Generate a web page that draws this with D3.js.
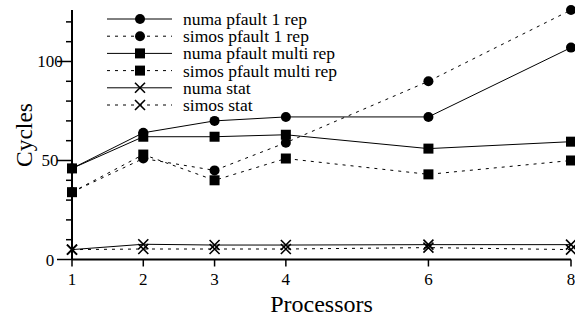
<!DOCTYPE html>
<html>
<head>
<meta charset="utf-8">
<script src="https://cdn.jsdelivr.net/npm/d3@7"></script>
</head>
<body style="margin:0">
<svg id="fig" width="575" height="317"></svg>
<script>
// processors on the x axis
const processors = [1, 2, 3, 4, 6, 8];

// series values (cycles)
const numaPfault1 = [46, 64, 70, 72, 72, 107];
const simosPfault1 = [34, 51, 45, 59, 90, 126];
const numaPfaultMulti = [46, 62, 62, 63, 56, 59.5];
const simosPfaultMulti = [34, 53, 40, 51, 43, 50];
const numaStat = [5, 7.7, 7.3, 7.3, 7.5, 7.5];
const simosStat = [5, 5.3, 5.3, 5.3, 6, 5];

const seriesNames = ["numa pfault 1 rep", "simos pfault 1 rep", "numa pfault multi rep",
                     "simos pfault multi rep", "numa stat", "simos stat"];

const xTicks = [1, 2, 3, 4, 6, 8];
const yMajorTicks = [0, 50, 100];
const yMinorTicks = [10, 20, 30, 40, 60, 70, 80, 90, 110, 120];

const serifFont = "'Liberation Serif', 'Times New Roman', 'DejaVu Serif', serif";

const series = [
  {name: seriesNames[0], values: numaPfault1, dashed: false, marker: "circle"},
  {name: seriesNames[1], values: simosPfault1, dashed: true, marker: "circle"},
  {name: seriesNames[2], values: numaPfaultMulti, dashed: false, marker: "square"},
  {name: seriesNames[3], values: simosPfaultMulti, dashed: true, marker: "square"},
  {name: seriesNames[4], values: numaStat, dashed: false, marker: "cross"},
  {name: seriesNames[5], values: simosStat, dashed: true, marker: "cross"}
];

const svg = d3.select("#fig");

const x = d3.scaleLinear().domain([1, 8]).range([72, 571]);
const y = d3.scaleLinear().domain([0, 126]).range([259.5, 10]);

function label(sel, size) {
  return sel.style("font-family", serifFont).style("font-size", size + "px").attr("fill", "#000");
}

// y axis
svg.append("line")
  .attr("x1", x(1)).attr("x2", x(1))
  .attr("y1", y(0)).attr("y2", y(126))
  .attr("stroke", "#000").attr("stroke-width", 2);

svg.selectAll(".ymaj").data(yMajorTicks).enter().append("line")
  .attr("x1", x(1) - 15).attr("x2", x(1))
  .attr("y1", d => y(d)).attr("y2", d => y(d))
  .attr("stroke", "#000").attr("stroke-width", 1.5);

svg.selectAll(".ymin").data(yMinorTicks).enter().append("line")
  .attr("x1", x(1) - 6).attr("x2", x(1))
  .attr("y1", d => y(d)).attr("y2", d => y(d))
  .attr("stroke", "#000").attr("stroke-width", 1.5);

label(svg.selectAll(".ylab").data(yMajorTicks).enter().append("text")
  .attr("x", 50).attr("y", d => y(d) + 6)
  .attr("text-anchor", "middle"), 17)
  .text(d => d);

// x axis
svg.append("line")
  .attr("x1", x(1)).attr("x2", x(8))
  .attr("y1", y(0)).attr("y2", y(0))
  .attr("stroke", "#000").attr("stroke-width", 2);

svg.selectAll(".xtick").data(xTicks).enter().append("line")
  .attr("x1", d => x(d)).attr("x2", d => x(d))
  .attr("y1", y(0)).attr("y2", y(0) + 7)
  .attr("stroke", "#000").attr("stroke-width", 1.5);

label(svg.selectAll(".xlab").data(xTicks).enter().append("text")
  .attr("x", d => x(d)).attr("y", 285)
  .attr("text-anchor", "middle"), 17)
  .text(d => d);

label(svg.append("text")
  .attr("x", (x(1) + x(8)) / 2).attr("y", 312)
  .attr("text-anchor", "middle"), 24)
  .text("Processors");

label(svg.append("text")
  .attr("transform", "translate(32, 135) rotate(-90)")
  .attr("text-anchor", "middle"), 23.5)
  .text("Cycles");

function drawMarker(g, kind, cx, cy) {
  if (kind === "circle") {
    g.append("circle").attr("cx", cx).attr("cy", cy).attr("r", 5).attr("fill", "#000");
  } else if (kind === "square") {
    g.append("rect").attr("x", cx - 5).attr("y", cy - 5)
      .attr("width", 10).attr("height", 10).attr("fill", "#000");
  } else {
    g.append("path")
      .attr("d", `M${cx - 5},${cy - 5}L${cx + 5},${cy + 5}M${cx - 5},${cy + 5}L${cx + 5},${cy - 5}`)
      .attr("stroke", "#000").attr("stroke-width", 1.6).attr("fill", "none");
  }
}

const line = d3.line().x(d => x(d[0])).y(d => y(d[1]));

series.forEach(s => {
  const pts = processors.map((p, i) => [p, s.values[i]]);
  const g = svg.append("g");
  g.append("path")
    .attr("d", line(pts))
    .attr("fill", "none")
    .attr("stroke", "#000")
    .attr("stroke-width", 1)
    .attr("stroke-dasharray", s.dashed ? "3,5" : null);
  pts.forEach(p => drawMarker(g, s.marker, x(p[0]), y(p[1])));
});

// legend
const legend = svg.append("g");
series.forEach((s, i) => {
  const ly = 19 + i * 17.2;
  legend.append("line")
    .attr("x1", 107).attr("x2", 172)
    .attr("y1", ly).attr("y2", ly)
    .attr("stroke", "#000").attr("stroke-width", 1)
    .attr("stroke-dasharray", s.dashed ? "3,5" : null);
  drawMarker(legend, s.marker, 140, ly);
  label(legend.append("text")
    .attr("x", 183).attr("y", ly + 6), 17.5)
    .text(s.name);
});
</script>
</body>
</html>
